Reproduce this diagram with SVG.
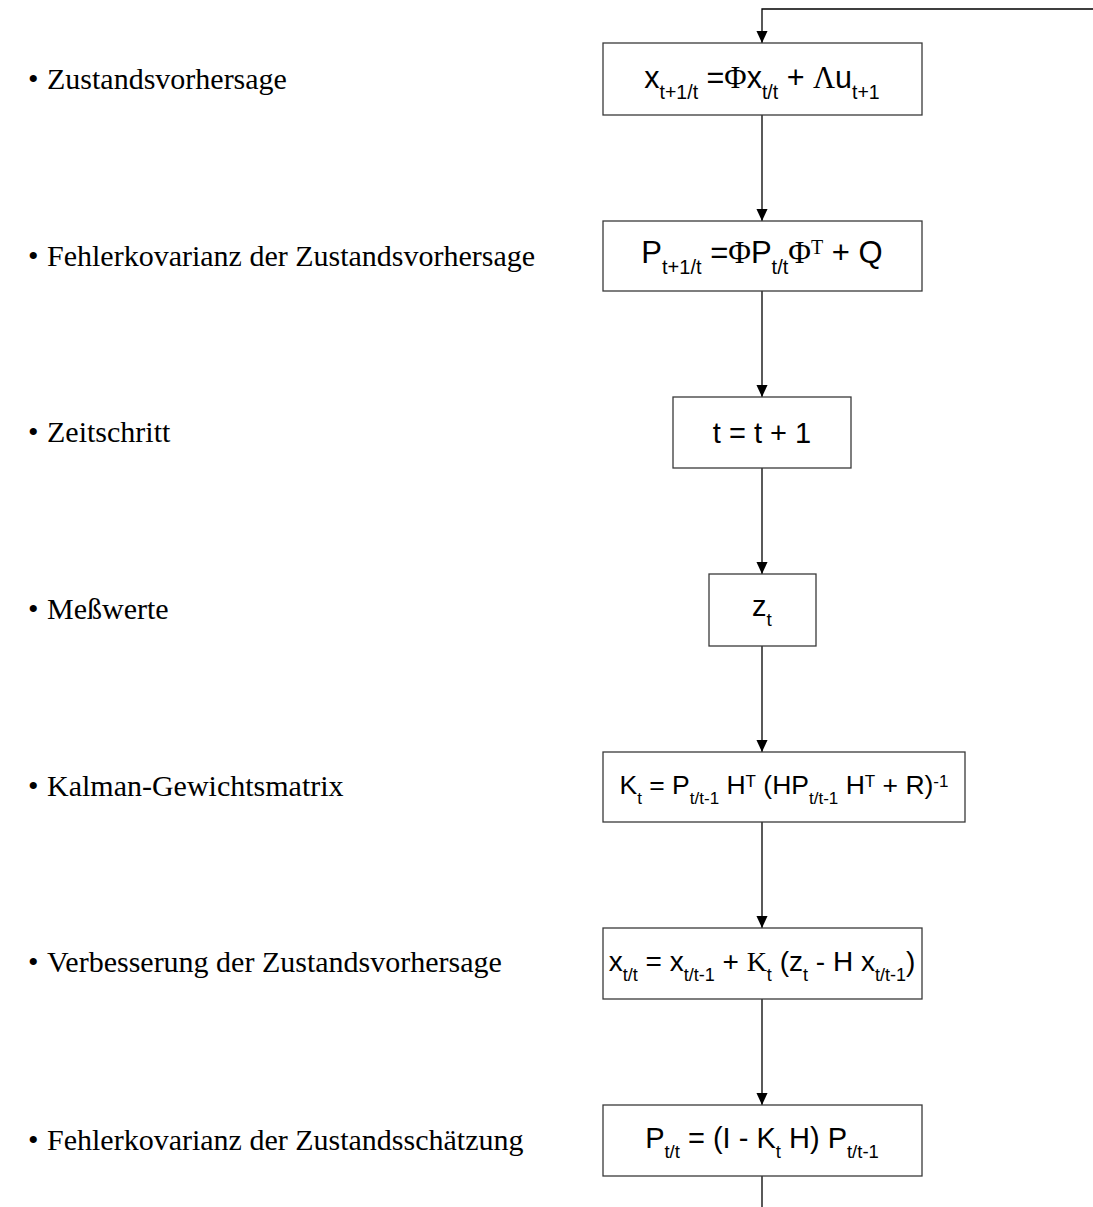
<svg xmlns="http://www.w3.org/2000/svg" width="1093" height="1207" viewBox="0 0 1093 1207">
<defs>
<marker id="ah" markerWidth="12" markerHeight="13" refX="13" refY="6" orient="auto" markerUnits="userSpaceOnUse" viewBox="0 0 13 12">
<path d="M0,0 L13,6 L0,12 Z" fill="#000"/>
</marker>
<style>
.box{fill:#fff;stroke:#3a3a3a;stroke-width:1.3}
.f{font-family:"Liberation Sans",Arial,sans-serif;fill:#000;text-anchor:middle;white-space:pre}
.g{font-family:"Liberation Serif","Times New Roman",serif}
.lab{font-family:"Liberation Serif","Times New Roman",serif;font-size:30px;fill:#000;white-space:pre}
.con{fill:none;stroke:#000;stroke-width:1.3}
</style>
</defs>
<rect width="1093" height="1207" fill="#fff"/>
<g id="labels">
<text class="lab" x="28" y="89">•</text><text class="lab" x="47" y="89">Zustandsvorhersage</text>
<text class="lab" x="28" y="266">•</text><text class="lab" x="47" y="266">Fehlerkovarianz der Zustandsvorhersage</text>
<text class="lab" x="28" y="442">•</text><text class="lab" x="47" y="442">Zeitschritt</text>
<text class="lab" x="28" y="619">•</text><text class="lab" x="47" y="619">Meßwerte</text>
<text class="lab" x="28" y="796">•</text><text class="lab" x="47" y="796">Kalman-Gewichtsmatrix</text>
<text class="lab" x="28" y="972">•</text><text class="lab" x="47" y="972">Verbesserung der Zustandsvorhersage</text>
<text class="lab" x="28" y="1150">•</text><text class="lab" x="47" y="1150">Fehlerkovarianz der Zustandsschätzung</text>
</g>
<g id="connectors">
<polyline class="con" points="1093,9 762,9 762,43" marker-end="url(#ah)"/>
<line class="con" x1="762" y1="115" x2="762" y2="221" marker-end="url(#ah)"/>
<line class="con" x1="762" y1="291" x2="762" y2="397" marker-end="url(#ah)"/>
<line class="con" x1="762" y1="468" x2="762" y2="574" marker-end="url(#ah)"/>
<line class="con" x1="762" y1="646" x2="762" y2="752" marker-end="url(#ah)"/>
<line class="con" x1="762" y1="822" x2="762" y2="928" marker-end="url(#ah)"/>
<line class="con" x1="762" y1="999" x2="762" y2="1105" marker-end="url(#ah)"/>
<line class="con" x1="762" y1="1176" x2="762" y2="1207"/>
</g>
<g id="n1">
<rect class="box" x="603" y="43" width="319" height="72"/>
<text class="f" x="762" y="88" font-size="30.5">x<tspan font-size="19.5" dy="11">t+1/t</tspan><tspan dy="-11"> =</tspan><tspan class="g">Φ</tspan>x<tspan font-size="19.5" dy="11">t/t</tspan><tspan dy="-11"> + </tspan><tspan class="g">Λ</tspan>u<tspan font-size="19.5" dy="11">t+1</tspan></text>
</g>
<g id="n2">
<rect class="box" x="603" y="221" width="319" height="70"/>
<text class="f" x="762" y="263" font-size="31">P<tspan font-size="20" dy="11">t+1/t</tspan><tspan dy="-11"> =</tspan><tspan class="g">Φ</tspan>P<tspan font-size="20" dy="11">t/t</tspan><tspan class="g" dy="-11">Φ</tspan><tspan class="g" font-size="20" dy="-9">T</tspan><tspan dy="9"> + Q</tspan></text>
</g>
<g id="n3">
<rect class="box" x="673" y="397" width="178" height="71"/>
<text class="f" x="762" y="443" font-size="29">t = t + 1</text>
</g>
<g id="n4">
<rect class="box" x="709" y="574" width="107" height="72"/>
<text class="f" x="762" y="616" font-size="29">z<tspan font-size="19" dy="10">t</tspan></text>
</g>
<g id="n5">
<rect class="box" x="603" y="752" width="362" height="70"/>
<text class="f" x="784" y="794" font-size="26.5">K<tspan font-size="17" dy="10">t</tspan><tspan dy="-10"> = P</tspan><tspan font-size="17" dy="10">t/t-1</tspan><tspan dy="-10"> H</tspan><tspan font-size="17" dy="-7">T</tspan><tspan dy="7"> (HP</tspan><tspan font-size="17" dy="10">t/t-1</tspan><tspan dy="-10"> H</tspan><tspan font-size="17" dy="-7">T</tspan><tspan dy="7"> + R)</tspan><tspan font-size="17" dy="-7">-1</tspan></text>
</g>
<g id="n6">
<rect class="box" x="603" y="928" width="319" height="71"/>
<text class="f" x="762" y="971" font-size="28">x<tspan font-size="18" dy="10">t/t</tspan><tspan dy="-10"> = x</tspan><tspan font-size="18" dy="10">t/t-1</tspan><tspan dy="-10"> + </tspan><tspan class="g">K</tspan><tspan font-size="18" dy="10">t</tspan><tspan dy="-10"> (z</tspan><tspan font-size="18" dy="10">t</tspan><tspan dy="-10"> - H x</tspan><tspan font-size="18" dy="10">t/t-1</tspan><tspan dy="-10">)</tspan></text>
</g>
<g id="n7">
<rect class="box" x="603" y="1105" width="319" height="71"/>
<text class="f" x="762" y="1148" font-size="29">P<tspan font-size="18.5" dy="10">t/t</tspan><tspan dy="-10"> = (I - K</tspan><tspan font-size="18.5" dy="10">t</tspan><tspan dy="-10"> H) P</tspan><tspan font-size="18.5" dy="10">t/t-1</tspan></text>
</g>
</svg>
